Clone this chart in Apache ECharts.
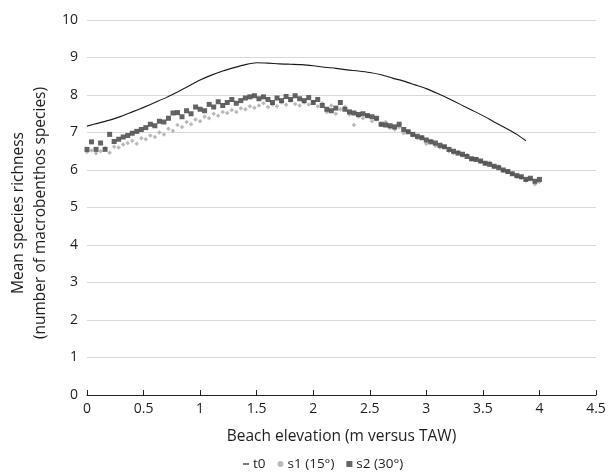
<!DOCTYPE html>
<html>
<head>
<meta charset="utf-8">
<script src="https://cdn.jsdelivr.net/npm/echarts@6/dist/echarts.min.js"></script>
<style>html,body{margin:0;padding:0;background:#fff}#c{width:611px;height:473px}</style>
</head>
<body>
<div id="c"></div>
<script>
var xTicks = [0, 0.5, 1, 1.5, 2, 2.5, 3, 3.5, 4, 4.5];
var yTicks = [0, 1, 2, 3, 4, 5, 6, 7, 8, 9, 10];
var seriesNames = ['t0', 's1 (15°)', 's2 (30°)'];
var xTitle = 'Beach elevation (m versus TAW)';
var yTitleLines = ['Mean species richness', '(number of macrobenthos species)'];

var t0Elev = [0.0,0.1,0.2,0.3,0.4,0.5,0.6,0.7,0.8,0.9,1.0,1.1,1.2,1.3,1.4,1.5,1.6,1.7,1.8,1.9,2.0,2.1,2.2,2.3,2.4,2.5,2.6,2.7,2.8,2.9,3.0,3.1,3.2,3.3,3.4,3.5,3.6,3.7,3.8,3.88];
var t0Values = [7.17,7.25,7.33,7.43,7.55,7.67,7.80,7.93,8.08,8.24,8.40,8.53,8.64,8.73,8.81,8.86,8.85,8.83,8.82,8.81,8.78,8.74,8.71,8.67,8.64,8.60,8.54,8.45,8.37,8.27,8.17,8.04,7.90,7.75,7.60,7.45,7.28,7.12,6.95,6.78];

var elevation = [0.00,0.04,0.08,0.12,0.16,0.20,0.24,0.28,0.32,0.36,0.40,0.44,0.48,0.52,0.56,0.60,0.64,0.68,0.72,0.76,0.80,0.84,0.88,0.92,0.96,1.00,1.04,1.08,1.12,1.16,1.20,1.24,1.28,1.32,1.36,1.40,1.44,1.48,1.52,1.56,1.60,1.64,1.68,1.72,1.76,1.80,1.84,1.88,1.92,1.96,2.00,2.04,2.08,2.12,2.16,2.20,2.24,2.28,2.32,2.36,2.40,2.44,2.48,2.52,2.56,2.60,2.64,2.68,2.72,2.76,2.80,2.84,2.88,2.92,2.96,3.00,3.04,3.08,3.12,3.16,3.20,3.24,3.28,3.32,3.36,3.40,3.44,3.48,3.52,3.56,3.60,3.64,3.68,3.72,3.76,3.80,3.84,3.88,3.92,3.96,4.00];

var s1Values = [6.48,6.52,6.45,6.50,6.58,6.46,6.62,6.60,6.68,6.72,6.78,6.70,6.85,6.82,6.92,6.88,7.00,6.95,7.10,7.05,7.20,7.15,7.28,7.22,7.35,7.30,7.42,7.38,7.50,7.45,7.55,7.52,7.60,7.55,7.65,7.62,7.70,7.66,7.72,7.78,7.68,7.75,7.70,7.80,7.74,7.85,7.76,7.72,7.80,7.75,7.82,7.70,7.78,7.55,7.72,7.50,7.62,7.68,7.48,7.20,7.42,7.38,7.45,7.30,7.35,7.20,7.28,7.12,7.08,7.15,6.98,7.02,6.92,6.85,6.88,6.70,6.78,6.65,6.60,6.62,6.50,6.45,6.48,6.38,6.40,6.28,6.30,6.22,6.18,6.20,6.08,6.10,5.98,5.95,5.90,5.82,5.80,5.72,5.75,5.62,5.68];

var s2Values = [6.55,6.75,6.55,6.72,6.55,6.95,6.76,6.82,6.88,6.92,6.98,7.03,7.08,7.13,7.22,7.18,7.30,7.28,7.38,7.52,7.53,7.42,7.58,7.50,7.68,7.62,7.58,7.75,7.68,7.82,7.72,7.80,7.88,7.78,7.85,7.92,7.95,7.98,7.90,7.95,7.88,7.80,7.92,7.85,7.96,7.88,7.98,7.90,7.85,7.93,7.80,7.88,7.72,7.62,7.58,7.65,7.80,7.62,7.55,7.52,7.48,7.50,7.45,7.42,7.38,7.22,7.20,7.18,7.15,7.22,7.08,7.02,6.95,6.90,6.86,6.80,6.75,6.72,6.66,6.62,6.55,6.50,6.45,6.42,6.36,6.30,6.28,6.24,6.18,6.15,6.10,6.06,6.00,5.96,5.90,5.85,5.82,5.75,5.78,5.70,5.75];

function zip(xs, ys) { return xs.map(function (x, i) { return [x, ys[i]]; }); }

var FONT = '"Open Sans", sans-serif';
var TXT = '#1e1e1e';
var chart = echarts.init(document.getElementById('c'), null, { renderer: 'canvas' });
chart.setOption({
  animation: false,
  backgroundColor: '#ffffff',
  textStyle: { fontFamily: FONT },
  grid: { left: 87, right: 15, top: 20, bottom: 78, containLabel: false },
  graphic: [
    {
      type: 'text', x: 19, y: 213, rotation: Math.PI / 2,
      style: { text: yTitleLines[0], font: '15.5px ' + FONT, fill: TXT, textAlign: 'center', textVerticalAlign: 'middle' }
    },
    {
      type: 'text', x: 41, y: 213, rotation: Math.PI / 2,
      style: { text: yTitleLines[1], font: '15.5px ' + FONT, fill: TXT, textAlign: 'center', textVerticalAlign: 'middle' }
    }
  ],
  legend: {
    top: 452,
    left: 238,
    itemWidth: 6,
    itemHeight: 6,
    itemGap: 12,
    textStyle: { fontFamily: FONT, fontSize: 13.5, color: TXT, padding: [0, 0, 0, -1] },
    data: [
      { name: seriesNames[0], icon: 'path://M0,0H10V2H0Z', itemStyle: { color: '#222' } },
      { name: seriesNames[1], icon: 'circle', itemStyle: { color: '#aaaaaa' } },
      { name: seriesNames[2], icon: 'rect', itemStyle: { color: '#404040' } }
    ]
  },
  xAxis: {
    type: 'value',
    min: xTicks[0],
    max: xTicks[xTicks.length - 1],
    interval: 0.5,
    name: xTitle,
    nameLocation: 'middle',
    nameGap: 34,
    nameTextStyle: { fontFamily: FONT, fontSize: 15.5, color: TXT },
    axisLine: { lineStyle: { color: '#222', width: 1 } },
    axisTick: { inside: true, length: 5, lineStyle: { color: '#222' } },
    axisLabel: { fontFamily: FONT, fontSize: 14, color: TXT, margin: 7 },
    splitLine: { show: false }
  },
  yAxis: {
    type: 'value',
    min: yTicks[0],
    max: yTicks[yTicks.length - 1],
    interval: 1,
    axisLine: { show: false },
    axisTick: { show: false },
    axisLabel: { fontFamily: FONT, fontSize: 14, color: TXT, margin: 9 },
    splitLine: { lineStyle: { color: '#d9d9d9', width: 1 } }
  },
  series: [
    {
      name: seriesNames[1],
      type: 'scatter',
      data: zip(elevation, s1Values),
      symbol: 'diamond',
      symbolSize: 4.5,
      itemStyle: { color: '#a8a8a8' },
      z: 2
    },
    {
      name: seriesNames[2],
      type: 'scatter',
      data: zip(elevation, s2Values),
      symbol: 'rect',
      symbolSize: 5,
      itemStyle: { color: '#3d3d3d' },
      z: 3
    },
    {
      name: seriesNames[0],
      type: 'line',
      data: zip(t0Elev, t0Values),
      showSymbol: false,
      smooth: 0.2,
      lineStyle: { color: '#1a1a1a', width: 1.1 },
      itemStyle: { color: '#222' },
      z: 4
    }
  ]
});
</script>
</body>
</html>
